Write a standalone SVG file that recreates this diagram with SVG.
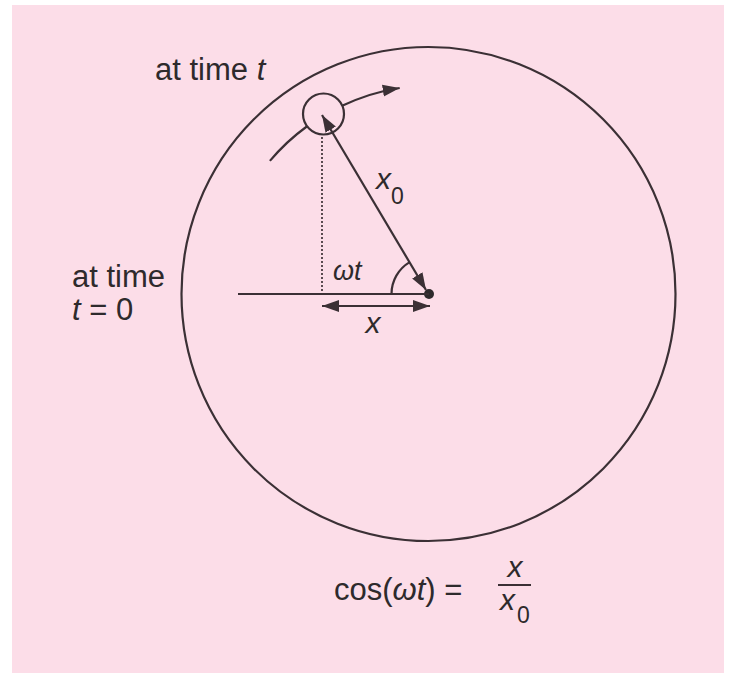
<svg xmlns="http://www.w3.org/2000/svg" width="730" height="673" viewBox="0 0 730 673">
<defs>
<style>
.ln{fill:none;stroke:#3b3035;stroke-width:2.2}
.dot{fill:none;stroke:#5a4a50;stroke-width:2;stroke-dasharray:2 2}
.t{font-family:"Liberation Sans",Arial,sans-serif;fill:#2e2a2c}
.i{font-style:italic}
</style>
<marker id="ah" markerUnits="userSpaceOnUse" markerWidth="18" markerHeight="14" refX="17" refY="7" orient="auto-start-reverse">
<path d="M0,1 L17,7 L0,13 z" fill="#3b3035"/>
</marker>
</defs>
<rect x="0" y="0" width="730" height="673" fill="#ffffff"/>
<rect x="12" y="5" width="712" height="668" fill="#fcdde8"/>
<g id="main-circle"><circle cx="428.5" cy="294" r="247" class="ln"/></g>
<g id="particle"><circle cx="323.5" cy="114" r="20.5" class="ln"/></g>
<g id="centre"><circle cx="429" cy="294" r="5" fill="#2e2a2c"/></g>
<g id="connectors">
<path d="M269.9,160.9 A207,207 0 0 1 306.8,126.5" class="ln"/>
<path d="M342.7,105.6 A207,207 0 0 1 399.7,88" class="ln" marker-end="url(#ah)"/>
<line x1="426" y1="290" x2="322" y2="115" class="ln" marker-start="url(#ah)" marker-end="url(#ah)"/>
<line x1="322" y1="137" x2="322" y2="294" class="dot"/>
<line x1="238" y1="294" x2="429" y2="294" class="ln"/>
<line x1="322" y1="306" x2="430" y2="306" class="ln" marker-start="url(#ah)" marker-end="url(#ah)"/>
<path d="M391.5,294 A37,37 0 0 1 409.7,262.1" class="ln" stroke-width="1.6"/>
</g>
<g id="labels">
<text x="155" y="80" class="t" font-size="31">at time <tspan class="i">t</tspan></text>
<text x="72" y="287" class="t" font-size="31">at time</text>
<text x="72" y="320" class="t" font-size="31"><tspan class="i">t</tspan> = 0</text>
<text x="376" y="189" class="t i" font-size="30">x</text>
<text x="391" y="204" class="t" font-size="23">0</text>
<text x="333" y="280" class="t i" font-size="27">ωt</text>
<text x="373" y="333" class="t i" font-size="30" text-anchor="middle">x</text>
<text x="334" y="600" class="t" font-size="31">cos(<tspan class="i">ωt</tspan>) =</text>
<text x="515" y="577" class="t i" font-size="30" text-anchor="middle">x</text>
<line x1="498" y1="585" x2="531" y2="585" class="ln" stroke-width="1.6"/>
<text x="500" y="610" class="t i" font-size="30">x</text>
<text x="517" y="623" class="t" font-size="23">0</text>
</g>
</svg>
